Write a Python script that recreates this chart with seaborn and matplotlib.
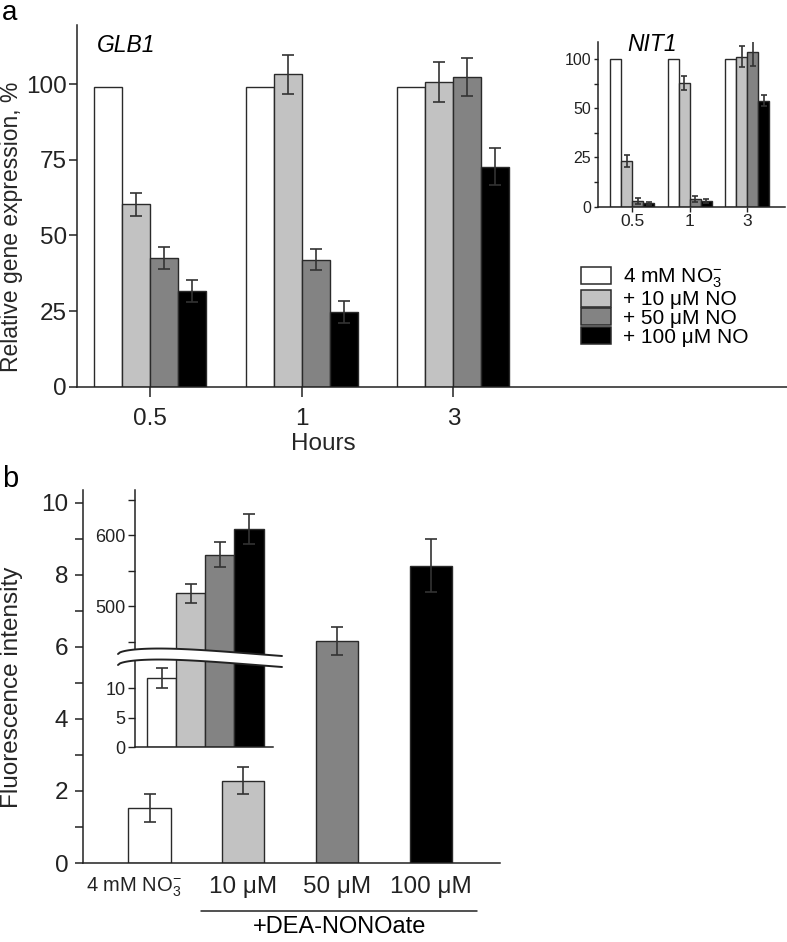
import numpy as np
import pandas as pd
import seaborn as sns
import matplotlib.pyplot as plt
from matplotlib.patches import Patch, Polygon
from matplotlib.lines import Line2D
from matplotlib.transforms import ScaledTranslation, blended_transform_factory

# --- data ---
hours = ["0.5", "1", "3"]
conditions = ["4 mM NO$_3^{-}$", "+ 10 \u03bcM NO", "+ 50 \u03bcM NO", "+ 100 \u03bcM NO"]
bar_colors = ["white", "#c2c2c2", "#838383", "black"]

# GLB1 (main panel a), one list per condition over hours
glb1_ctrl = [99, 99, 99]
glb1_no10 = [60.2, 103.2, 100.8]
glb1_no50 = [42.5, 42.0, 102.3]
glb1_no100 = [31.6, 24.8, 72.7]
glb1_err = [[0, 0, 0], [3.7, 6.5, 6.6], [3.6, 3.6, 6.2], [3.6, 3.6, 6.1]]

# NIT1 (inset of panel a), in units of the drawn axis
nit1_ctrl = [100, 100, 100]
nit1_no10 = [30.9, 83.7, 101.6]
nit1_no50 = [3.8, 5.0, 104.5]
nit1_no100 = [2.3, 3.8, 71.8]
nit1_err = [[0, 0, 0], [4.0, 5.0, 7.0], [2.0, 2.0, 9.0], [1.0, 1.5, 3.5]]
nit1_ticks = [0, 100 / 3, 200 / 3, 100]
nit1_ticklabels = ["0", "25", "50", "100"]

# panel b
treatments = ["4 mM NO$_3^{-}$", "10 \u03bcM", "50 \u03bcM", "100 \u03bcM"]
fluor = [1.53, 2.29, 6.16, 8.26]
fluor_err = [0.39, 0.38, 0.39, 0.74]
fluor_inset = [11.7, 517.9, 572.3, 608.0]
fluor_inset_err = [1.7, 13.6, 18.0, 21.0]

sns.set_theme(style="ticks")
plt.rcParams["font.family"] = ["Liberation Sans", "DejaVu Sans"]
plt.rcParams["mathtext.fontset"] = "custom"
plt.rcParams["mathtext.rm"] = "Liberation Sans"
plt.rcParams["mathtext.it"] = "Liberation Sans:italic"
plt.rcParams["mathtext.default"] = "regular"
plt.rcParams["axes.linewidth"] = 1.1
plt.rcParams["axes.edgecolor"] = "#222222"
plt.rcParams["xtick.color"] = "#222222"
plt.rcParams["ytick.color"] = "#222222"
plt.rcParams["text.color"] = "black"

W, H = 787, 942
fig = plt.figure(figsize=(W / 100, H / 100), dpi=100)


def px_axes(left, top, right, bottom):
    return fig.add_axes([left / W, 1 - bottom / H, (right - left) / W, (bottom - top) / H])


palette = dict(zip(conditions, bar_colors))
edge = "#2a2a2a"


def grouped(ax, series, errs, width, capsize):
    df = pd.DataFrame({
        "hours": np.tile(hours, len(conditions)),
        "cond": np.repeat(conditions, len(hours)),
        "value": np.concatenate(series),
    })
    sns.barplot(df, x="hours", y="value", hue="cond", order=hours, hue_order=conditions,
                palette=palette, saturation=1, width=width, errorbar=None,
                edgecolor=edge, linewidth=1.0, legend=False, ax=ax)
    for cont, err in zip(ax.containers, errs):
        for bar, e in zip(cont, err):
            if e:
                ax.errorbar(bar.get_x() + bar.get_width() / 2, bar.get_height(), yerr=e,
                            color="#333333", lw=1.2, capsize=capsize, capthick=1.2)


# ---------------- panel a ----------------
ax_a = px_axes(77.3, 25, 787, 386.7)
grouped(ax_a, [glb1_ctrl, glb1_no10, glb1_no50, glb1_no100], glb1_err, 0.74, 4.5)
ax_a.set_xlim(-0.48, 4.2)
ax_a.set_ylim(0, 119.5)
ax_a.set_yticks([0, 25, 50, 75, 100])
ax_a.tick_params(axis="y", length=6, width=1.1, pad=1.5, labelsize=17.5)
ax_a.tick_params(axis="x", length=7, width=1.1, pad=8, labelsize=17.5)
ax_a.set_xlabel("Hours", fontsize=17.5)
ax_a.set_ylabel("Relative gene expression, %", fontsize=16.5)
ax_a.xaxis.set_label_coords(0.346, -0.128)
ax_a.yaxis.set_label_coords(-0.077, 0.442)
ax_a.text(-0.35, 112.6, "GLB1", fontsize=16.5, style="italic", ha="left", va="center")
sns.despine(ax=ax_a)

# inset NIT1
ax_n = px_axes(598.3, 41.7, 785, 206.7)
ax_n.patch.set_alpha(0)
grouped(ax_n, [nit1_ctrl, nit1_no10, nit1_no50, nit1_no100], nit1_err, 0.765, 2)
ax_n.set_xlim(-0.586, 2.66)
ax_n.set_ylim(0, 111.7)
ax_n.set_yticks(nit1_ticks, nit1_ticklabels)
ax_n.set_yticks([100 / 6, 50, 500 / 6], minor=True)
ax_n.tick_params(axis="y", which="both", length=3, width=1.0, pad=2, labelsize=11.5)
ax_n.tick_params(axis="x", length=3.5, width=1.0, pad=1.5, labelsize=12.5)
ax_n.set_xlabel("")
ax_n.set_ylabel("")
ax_n.text(0.35, 109.7, "NIT1", fontsize=16.5, style="italic", ha="center", va="center")
sns.despine(ax=ax_n)

handles = [Patch(facecolor=c, edgecolor=edge, linewidth=1.1, label=l)
           for c, l in zip(bar_colors, conditions)]
ax_a.legend(handles=handles, loc="upper left", bbox_to_anchor=(581 / W, 1 - 267 / H),
            bbox_transform=fig.transFigure, frameon=False, fontsize=15,
            handlelength=1.44, handleheight=0.87, handletextpad=0.58,
            labelspacing=-0.04, borderpad=0, borderaxespad=0)

fig.text(2 / W, 1.0, "a", fontsize=20, va="top")
fig.text(2 / W, 1 - 487 / H, "b", fontsize=21, va="baseline")

# ---------------- panel b ----------------
pal_b = dict(zip(treatments, bar_colors))
df_b = pd.DataFrame({"treat": treatments, "value": fluor})

ax_b = px_axes(83, 490, 500, 863)
sns.barplot(df_b, x="treat", y="value", hue="treat", palette=pal_b, saturation=1,
            width=0.45, errorbar=None, edgecolor=edge, linewidth=1.0, legend=False, ax=ax_b)
for bar, e in zip(ax_b.patches, fluor_err):
    ax_b.errorbar(bar.get_x() + bar.get_width() / 2, bar.get_height(), yerr=e,
                  color="#333333", lw=1.2, capsize=4.5, capthick=1.2)
ax_b.set_xlim(-0.71, 3.74)
ax_b.set_ylim(0, 10.36)
ax_b.set_yticks([0, 2, 4, 6, 8, 10])
ax_b.set_yticks([1, 3, 5, 7, 9], minor=True)
ax_b.tick_params(axis="y", which="both", length=6, width=1.1, pad=4.5, labelsize=17.5)
ax_b.tick_params(axis="x", length=0, pad=9, labelsize=17.5)
ax_b.set_xlabel("")
ax_b.set_ylabel("Fluorescence intensity", fontsize=17.5)
ax_b.yaxis.set_label_coords(-0.143, 0.472)
first = ax_b.get_xticklabels()[0]
first.set_fontsize(14.5)
first.set_transform(first.get_transform() + ScaledTranslation(-0.16, 0, fig.dpi_scale_trans))
sns.despine(ax=ax_b)

blend = blended_transform_factory(ax_b.transData, ax_b.transAxes)
ax_b.plot([0.55, 3.49], [-0.129, -0.129], transform=blend, clip_on=False, color="#222222", lw=1.1)
ax_b.text(2.03, -0.172, "+DEA-NONOate", transform=blend, fontsize=17, ha="center", va="center")

# inset with broken axis
df_bi = pd.DataFrame({"treat": treatments, "value": fluor_inset})
ax_lo = px_axes(135, 659, 273, 747.3)
ax_hi = px_axes(135, 490, 273, 659)
for ax in (ax_lo, ax_hi):
    ax.patch.set_alpha(0)
    sns.barplot(df_bi, x="treat", y="value", hue="treat", palette=pal_b, saturation=1,
                width=1.0, errorbar=None, edgecolor=edge, linewidth=1.0, legend=False, ax=ax)
    for bar, e in zip(ax.patches, fluor_inset_err):
        ax.errorbar(bar.get_x() + bar.get_width() / 2, bar.get_height(), yerr=e,
                    color="#333333", lw=1.2, capsize=4.3, capthick=1.2)
    ax.set_xlim(-0.91, 3.82)
    ax.set_xlabel("")
    ax.set_ylabel("")
    ax.set_xticks([])
    ax.tick_params(axis="y", which="both", length=5, width=1.0, pad=2, labelsize=13)
ax_lo.set_ylim(0, 15)
ax_lo.set_yticks([0, 5, 10])
sns.despine(ax=ax_lo)
ax_hi.set_ylim(425.4, 663.4)
ax_hi.set_yticks([500, 600])
ax_hi.set_yticks([450, 550, 650], minor=True)
sns.despine(ax=ax_hi, bottom=True)

# wavy break mark
t = np.linspace(0, 1, 80)
xw = 118 + 164 * t
upper = 654 + 2 * t - 6 * np.sin(np.pi * t ** 0.55)
lower = upper + 11
band = np.column_stack([np.r_[xw, xw[::-1]] / W, 1 - np.r_[upper, lower[::-1]] / H])
fig.add_artist(Polygon(band, closed=True, facecolor="white", edgecolor="none",
                       transform=fig.transFigure, zorder=5))
for yy in (upper, lower):
    fig.add_artist(Line2D(xw / W, 1 - yy / H, color="#222222", lw=1.4,
                          transform=fig.transFigure, zorder=6))

fig.savefig("out.png", dpi=100)
